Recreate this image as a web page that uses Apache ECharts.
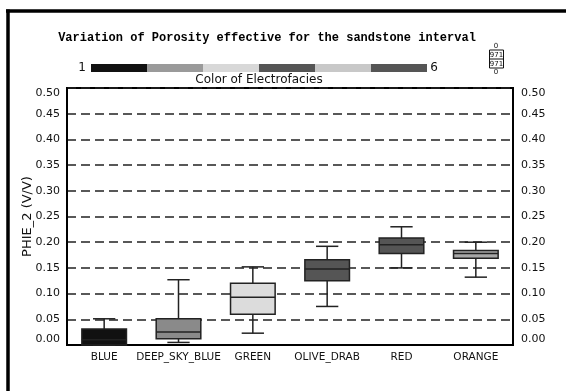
<!DOCTYPE html>
<html>
<head>
<meta charset="utf-8">
<script src="https://cdn.jsdelivr.net/npm/echarts@6/dist/echarts.min.js"></script>
<style>
  html, body { margin: 0; padding: 0; background: #fff; }
  #chart { width: 566px; height: 391px; }
</style>
</head>
<body>
<div id="chart"></div>
<script>
// Electrofacies classes and their box statistics for PHIE_2 (V/V)
const categories = ['BLUE', 'DEEP_SKY_BLUE', 'GREEN', 'OLIVE_DRAB', 'RED', 'ORANGE'];
const whiskerLow  = [0.000, 0.005, 0.023, 0.075, 0.150, 0.132];
const quartile1   = [0.000, 0.012, 0.060, 0.125, 0.178, 0.169];
const medians     = [0.010, 0.0255, 0.093, 0.148, 0.195, 0.178];
const quartile3   = [0.031, 0.051, 0.120, 0.166, 0.208, 0.184];
const whiskerHigh = [0.051, 0.127, 0.152, 0.192, 0.230, 0.200];

// Grey shades used for each facies box
const boxFills = ['#111111', '#8a8a8a', '#dcdcdc', '#555555', '#555555', '#a8a8a8'];

// Colour scale of electrofacies 1..6
const scaleClasses = [1, 2, 3, 4, 5, 6];
const scaleColors = ['#111111', '#9a9a9a', '#d8d8d8', '#555555', '#c8c8c8', '#555555'];

// Y axis ticks
const yMin = 0, yMax = 0.5, yStep = 0.05;

const boxData = categories.map((c, i) => [i, whiskerLow[i], quartile1[i], medians[i], quartile3[i], whiskerHigh[i]]);

const stroke = '#222';

function renderBox(params, api) {
  const idx = api.value(0);
  const lo = api.coord([idx, api.value(1)]);
  const q1 = api.coord([idx, api.value(2)]);
  const md = api.coord([idx, api.value(3)]);
  const q3 = api.coord([idx, api.value(4)]);
  const hi = api.coord([idx, api.value(5)]);
  const band = api.size([1, 0])[0];
  const bw = band * 0.6;
  const cw = band * 0.3;
  const x = lo[0];
  const ls = { stroke: stroke, lineWidth: 1.5 };
  return {
    type: 'group',
    children: [
      { type: 'line', shape: { x1: x, y1: hi[1], x2: x, y2: q3[1] }, style: ls },
      { type: 'line', shape: { x1: x, y1: q1[1], x2: x, y2: lo[1] }, style: ls },
      { type: 'line', shape: { x1: x - cw / 2, y1: hi[1], x2: x + cw / 2, y2: hi[1] }, style: ls },
      { type: 'line', shape: { x1: x - cw / 2, y1: lo[1], x2: x + cw / 2, y2: lo[1] }, style: ls },
      { type: 'rect', shape: { x: x - bw / 2, y: q3[1], width: bw, height: q1[1] - q3[1] },
        style: { fill: boxFills[idx], stroke: stroke, lineWidth: 1.5 } },
      { type: 'line', shape: { x1: x - bw / 2, y1: md[1], x2: x + bw / 2, y2: md[1] }, style: ls }
    ]
  };
}

const chart = echarts.init(document.getElementById('chart'), null, { renderer: 'canvas' });

const yLabel = {
  color: '#111',
  fontFamily: 'DejaVu Sans',
  fontSize: 11,
  formatter: v => v.toFixed(2),
  verticalAlignMinLabel: 'bottom',
  verticalAlignMaxLabel: 'top'
};

chart.setOption({
  animation: false,
  backgroundColor: '#fff',
  grid: [
    { left: 67, right: 53, top: 88, bottom: 46, show: true, borderColor: '#000', borderWidth: 2, backgroundColor: 'transparent' },
    { left: 91, width: 336, top: 64, height: 8 }
  ],
  xAxis: [
    {
      type: 'category', data: categories, gridIndex: 0,
      axisLine: { show: true, lineStyle: { color: '#000', width: 2 } },
      axisTick: { show: false },
      axisLabel: { interval: 0, color: '#111', fontFamily: 'DejaVu Sans', fontSize: 10.5, margin: 7 }
    },
    { type: 'category', data: scaleClasses, gridIndex: 1, show: false }
  ],
  yAxis: [
    {
      type: 'value', min: yMin, max: yMax, interval: yStep, gridIndex: 0,
      name: 'PHIE_2 (V/V)', nameLocation: 'middle', nameGap: 33, nameMoveOverlap: false,
      nameTextStyle: { color: '#111', fontFamily: 'DejaVu Sans', fontSize: 13 },
      axisLine: { show: true, lineStyle: { color: '#000', width: 2 } },
      axisTick: { show: false },
      axisLabel: Object.assign({ margin: 7 }, yLabel),
      splitLine: { show: true, lineStyle: { color: '#222', width: 1.5, type: [9, 5] } }
    },
    {
      type: 'value', min: yMin, max: yMax, interval: yStep, gridIndex: 0, position: 'right',
      axisLine: { show: true, lineStyle: { color: '#000', width: 2 } },
      axisTick: { show: false },
      axisLabel: Object.assign({ margin: 8 }, yLabel),
      splitLine: { show: false }
    },
    { type: 'value', min: 0, max: 1, gridIndex: 1, show: false }
  ],
  series: [
    {
      type: 'custom', xAxisIndex: 0, yAxisIndex: 0,
      renderItem: renderBox, data: boxData, z: 5
    },
    {
      type: 'bar', xAxisIndex: 1, yAxisIndex: 2, barWidth: '100%', barGap: 0,
      data: scaleClasses.map((c, i) => ({ value: 1, itemStyle: { color: scaleColors[i] } }))
    }
  ],
  graphic: [
    // outer frame
    { type: 'line', shape: { x1: 6, y1: 11, x2: 566, y2: 11 }, style: { stroke: '#000', lineWidth: 3.5 } },
    { type: 'line', shape: { x1: 8, y1: 9.5, x2: 8, y2: 391 }, style: { stroke: '#000', lineWidth: 3.5 } },
    // title
    { type: 'text', x: 267, y: 38, style: {
        text: 'Variation of Porosity effective for the sandstone interval',
        fontFamily: '"Courier New", "Liberation Mono", monospace', fontWeight: 'bold', fontSize: 12,
        fill: '#000', align: 'center', verticalAlign: 'middle' } },
    // scale end labels
    { type: 'text', x: 82, y: 68, style: { text: '1', fontFamily: 'DejaVu Sans', fontSize: 12, fill: '#111', align: 'center', verticalAlign: 'middle' } },
    { type: 'text', x: 434, y: 68, style: { text: '6', fontFamily: 'DejaVu Sans', fontSize: 12, fill: '#111', align: 'center', verticalAlign: 'middle' } },
    { type: 'text', x: 259, y: 79.5, style: { text: 'Color of Electrofacies', fontFamily: 'DejaVu Sans', fontSize: 12, fill: '#111', align: 'center', verticalAlign: 'middle' } },
    // count key
    { type: 'text', x: 496, y: 46, style: { text: '0', fontFamily: 'DejaVu Sans', fontSize: 7, fill: '#111', align: 'center', verticalAlign: 'middle' } },
    { type: 'rect', shape: { x: 489.5, y: 50, width: 14, height: 18 }, style: { fill: '#fff', stroke: '#111', lineWidth: 1 } },
    { type: 'line', shape: { x1: 489.5, y1: 59, x2: 503.5, y2: 59 }, style: { stroke: '#111', lineWidth: 1 } },
    { type: 'text', x: 496.5, y: 54.8, style: { text: '971', fontFamily: 'DejaVu Sans', fontSize: 7, fill: '#111', align: 'center', verticalAlign: 'middle' } },
    { type: 'text', x: 496.5, y: 63.8, style: { text: '971', fontFamily: 'DejaVu Sans', fontSize: 7, fill: '#111', align: 'center', verticalAlign: 'middle' } },
    { type: 'text', x: 496, y: 72.5, style: { text: '0', fontFamily: 'DejaVu Sans', fontSize: 7, fill: '#111', align: 'center', verticalAlign: 'middle' } }
  ]
});
</script>
</body>
</html>
